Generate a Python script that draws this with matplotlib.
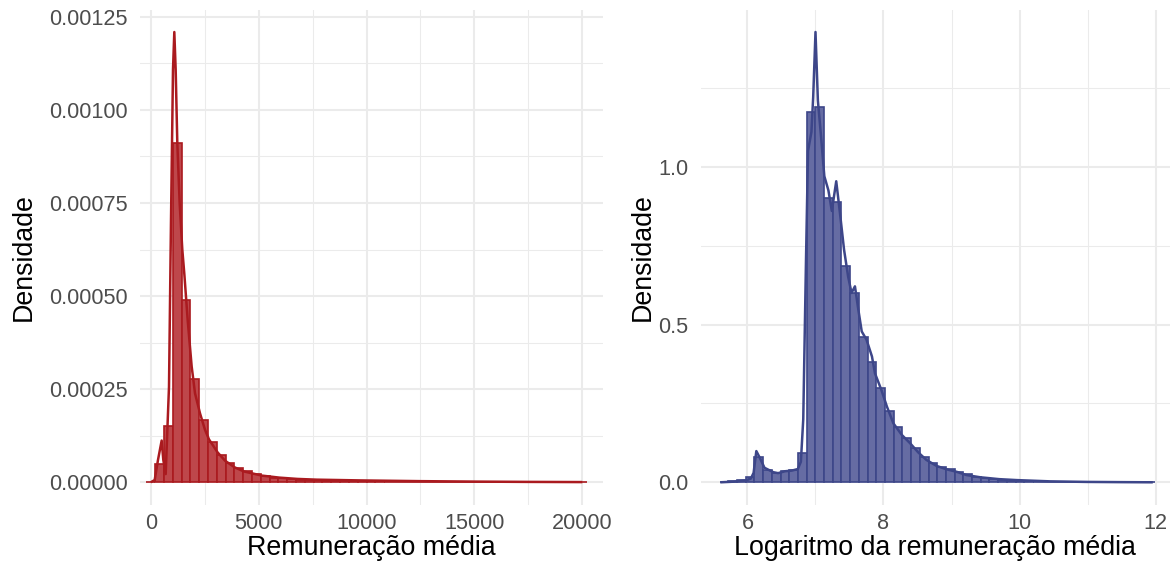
import numpy as np
import matplotlib
matplotlib.use("Agg")
import matplotlib.pyplot as plt
from matplotlib.ticker import FixedLocator, FixedFormatter

plt.rcParams['font.family'] = ['Liberation Sans', 'DejaVu Sans']

# ---------------- data: left panel (Remuneração média) ----------------
left_bin_start = -204.0
left_bin_width = 408.2
left_hist = [
    0.0000010, 0.0000480, 0.0001500, 0.0009110, 0.0004900, 0.0002770, 0.0001680, 0.0001080,
    0.0000730, 0.0000510, 0.0000375, 0.0000300, 0.0000210, 0.0000160, 0.0000125, 0.0000107,
    0.0000089, 0.0000070, 0.0000058, 0.0000050, 0.0000044, 0.0000038, 0.0000033, 0.0000029,
    0.0000026, 0.0000023, 0.0000021, 0.0000019, 0.0000017, 0.0000015, 0.0000014, 0.0000013,
    0.0000012, 0.0000011, 0.0000010, 0.0000009, 0.0000008, 0.0000008, 0.0000007, 0.0000007,
    0.0000006, 0.0000006, 0.0000005, 0.0000005, 0.0000005, 0.0000004, 0.0000004, 0.0000004,
    0.0000003, 0.0000003,
]
left_dens_x = [0, 184, 338, 508, 584, 694, 848, 941, 1033, 1094, 1157, 1233, 1342, 1464,
               1557, 1713, 1898, 2053, 2285, 2516, 2702, 3103, 3443, 3892, 4323, 5144,
               5959, 6793, 7692, 9699, 12500, 15000, 17500, 20000]
left_dens_y = [0.0, 0.000006, 0.000060, 0.000112, 0.000060, 0.000022, 0.000257, 0.000705,
               0.001108, 0.001209, 0.001108, 0.000910, 0.000750, 0.000625, 0.000560,
               0.000436, 0.000311, 0.000239, 0.000185, 0.000141, 0.000115, 0.000080,
               0.000058, 0.000040, 0.000029, 0.000018, 0.0000125, 0.000009, 0.000007,
               0.000005, 0.000003, 0.0000018, 0.000001, 0.0000005]
left_xticks = [0, 5000, 10000, 15000, 20000]
left_xtick_labels = ['0', '5000', '10000', '15000', '20000']
left_xminor = [2500, 7500, 12500, 17500]
left_yticks = [0.0, 0.00025, 0.0005, 0.00075, 0.001, 0.00125]
left_ytick_labels = ['0.00000', '0.00025', '0.00050', '0.00075', '0.00100', '0.00125']
left_yminor = [0.000125, 0.000375, 0.000625, 0.000875, 0.001125]

# ---------------- data: right panel (log) ----------------
right_bin_start = 5.59
right_bin_width = 0.128
right_hist = [
    0.002, 0.004, 0.007, 0.016, 0.079, 0.040, 0.029, 0.036, 0.039, 0.092,
    1.173, 1.190, 0.901, 0.888, 0.687, 0.600, 0.461, 0.380, 0.298, 0.227,
    0.175, 0.140, 0.109, 0.081, 0.062, 0.047, 0.042, 0.034, 0.025, 0.018,
    0.013, 0.010, 0.007, 0.005, 0.004, 0.003, 0.002, 0.0015, 0.001, 0.001,
    0.0008, 0.0006, 0.0005, 0.0004, 0.0003, 0.0003, 0.0002, 0.0002, 0.0001, 0.0001,
]
right_dens_x = [5.60, 5.80, 5.98, 6.05, 6.09, 6.13, 6.18, 6.25, 6.38, 6.45, 6.55, 6.65,
                6.74, 6.785, 6.82, 6.86, 6.89, 6.94, 6.966, 7.0, 7.035, 7.08, 7.13, 7.19,
                7.24, 7.305, 7.36, 7.42, 7.48, 7.53, 7.58, 7.63, 7.68, 7.75, 7.83, 7.875,
                7.97, 8.05, 8.145, 8.27, 8.39, 8.51, 8.63, 8.78, 8.93, 9.08, 9.22, 9.42,
                9.7, 9.96, 10.45, 11.0, 11.5, 11.96]
right_dens_y = [0.0, 0.002, 0.006, 0.012, 0.030, 0.099, 0.078, 0.046, 0.032, 0.029, 0.035,
                0.037, 0.042, 0.065, 0.200, 0.700, 1.050, 1.110, 1.220, 1.427, 1.210, 1.100,
                0.970, 0.925, 0.860, 0.954, 0.853, 0.737, 0.652, 0.600, 0.621, 0.547,
                0.478, 0.452, 0.399, 0.345, 0.292, 0.240, 0.187, 0.150, 0.124, 0.095,
                0.071, 0.052, 0.041, 0.033, 0.023, 0.016, 0.010, 0.007, 0.003, 0.0012,
                0.0005, 0.0]
right_xticks = [6, 8, 10, 12]
right_xtick_labels = ['6', '8', '10', '12']
right_xminor = [7, 9, 11]
right_yticks = [0.0, 0.5, 1.0]
right_ytick_labels = ['0.0', '0.5', '1.0']
right_yminor = [0.25, 0.75, 1.25]

# ---------------- figure ----------------
W, H = 1173, 566
fig = plt.figure(figsize=(W / 100, H / 100), dpi=100)
fig.patch.set_facecolor('white')
ax1 = fig.add_axes([140 / W, 1 - 504.8 / H, 463 / W, 495.3 / H])
ax2 = fig.add_axes([700.5 / W, 1 - 504.8 / H, 469.5 / W, 495.3 / H])

TICK_SIZE = 15.6
TITLE_SIZE = 19.3
GRID = '#EBEBEB'


def style(ax, xt, xtl, xm, yt, ytl, ym):
    for s in ax.spines.values():
        s.set_visible(False)
    ax.xaxis.set_major_locator(FixedLocator(xt))
    ax.xaxis.set_major_formatter(FixedFormatter(xtl))
    ax.xaxis.set_minor_locator(FixedLocator(xm))
    ax.yaxis.set_major_locator(FixedLocator(yt))
    ax.yaxis.set_major_formatter(FixedFormatter(ytl))
    ax.yaxis.set_minor_locator(FixedLocator(ym))
    ax.grid(which='major', color=GRID, lw=1.45)
    ax.grid(which='minor', color=GRID, lw=0.75)
    ax.set_axisbelow(True)
    ax.tick_params(which='both', length=0)
    ax.tick_params(axis='x', labelsize=TICK_SIZE, labelcolor='#4D4D4D', pad=6)
    ax.tick_params(axis='y', labelsize=TICK_SIZE, labelcolor='#4D4D4D', pad=9)


def hist(ax, start, width, heights, fill, edge):
    n = len(heights)
    lefts = start + width * np.arange(n)
    ax.bar(lefts, heights, width=width, align='edge', color=fill,
           edgecolor=edge, linewidth=1.2, zorder=2)


# left panel
hist(ax1, left_bin_start, left_bin_width, left_hist, '#BE474B', '#AA1A1F')
ax1.plot(left_dens_x, left_dens_y, color='#AA1A1F', lw=1.8, zorder=3,
         solid_joinstyle='round', solid_capstyle='butt')
ax1.set_xlim(-496, 20959)
ax1.set_ylim(-0.0000605, 0.0012695)
style(ax1, left_xticks, left_xtick_labels, left_xminor,
      left_yticks, left_ytick_labels, left_yminor)
ax1.set_xlabel('Remuneração média', fontsize=TITLE_SIZE, labelpad=0.5)
ax1.set_ylabel('Densidade', fontsize=TITLE_SIZE, labelpad=8.4)

# right panel
hist(ax2, right_bin_start, right_bin_width, right_hist, '#666CA3', '#3D4689')
ax2.plot(right_dens_x, right_dens_y, color='#3D4689', lw=1.8, zorder=3,
         solid_joinstyle='round', solid_capstyle='butt')
ax2.set_xlim(5.309, 12.213)
ax2.set_ylim(-0.0713, 1.4983)
style(ax2, right_xticks, right_xtick_labels, right_xminor,
      right_yticks, right_ytick_labels, right_yminor)
ax2.set_xlabel('Logaritmo da remuneração média', fontsize=TITLE_SIZE, labelpad=0.5)
ax2.set_ylabel('Densidade', fontsize=TITLE_SIZE, labelpad=1.4)

fig.savefig('out.png', dpi=100, facecolor='white')
